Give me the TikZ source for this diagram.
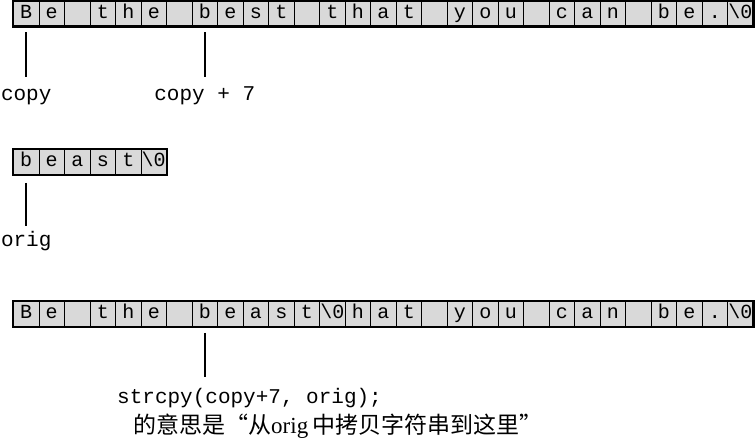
\documentclass[tikz,border=0pt]{standalone}
\usepackage{fontspec}
\setmainfont{Liberation Serif}
\setmonofont{Liberation Mono}
\newfontfamily\cjk{Noto Sans CJK SC}
\usepackage{tikz}
\usetikzlibrary{positioning,calc}
\def\nul{\textbackslash0}
\tikzstyle{cell} = [draw, line width=0.8pt, fill=gray!30, minimum width=25.5pt, minimum height=25pt, inner sep=0pt, text height=12pt, text depth=3pt, font=\fontsize{20}{22}\ttfamily]
\tikzstyle{frame} = [line width=2.5pt]
\tikzstyle{stem} = [line width=1.6pt]
\tikzstyle{lbl} = [anchor=base, inner sep=0pt, text height=12pt, text depth=4pt, font=\fontsize{21}{24}\ttfamily]

\begin{document}
\begin{tikzpicture}[x=1pt,y=-1pt]
      \useasboundingbox (0,0) rectangle (755,440);
      %%%%%%%%%%%%%%%%%%%%%%%%%%%%%%%%%%%%%%%
      % the string copy points at
      \draw (26.25,13.5) node (s1) [cell] {B};
      \draw (51.75,13.5) node (s2) [cell] {e};
      \draw (77.25,13.5) node (s3) [cell] {};
      \draw (102.75,13.5) node (s4) [cell] {t};
      \draw (128.25,13.5) node (s5) [cell] {h};
      \draw (153.75,13.5) node (s6) [cell] {e};
      \draw (179.25,13.5) node (s7) [cell] {};
      \draw (204.75,13.5) node (s8) [cell] {b};
      \draw (230.25,13.5) node (s9) [cell] {e};
      \draw (255.75,13.5) node (s10) [cell] {s};
      \draw (281.25,13.5) node (s11) [cell] {t};
      \draw (306.75,13.5) node (s12) [cell] {};
      \draw (332.25,13.5) node (s13) [cell] {t};
      \draw (357.75,13.5) node (s14) [cell] {h};
      \draw (383.25,13.5) node (s15) [cell] {a};
      \draw (408.75,13.5) node (s16) [cell] {t};
      \draw (434.25,13.5) node (s17) [cell] {};
      \draw (459.75,13.5) node (s18) [cell] {y};
      \draw (485.25,13.5) node (s19) [cell] {o};
      \draw (510.75,13.5) node (s20) [cell] {u};
      \draw (536.25,13.5) node (s21) [cell] {};
      \draw (561.75,13.5) node (s22) [cell] {c};
      \draw (587.25,13.5) node (s23) [cell] {a};
      \draw (612.75,13.5) node (s24) [cell] {n};
      \draw (638.25,13.5) node (s25) [cell] {};
      \draw (663.75,13.5) node (s26) [cell] {b};
      \draw (689.25,13.5) node (s27) [cell] {e};
      \draw (714.75,13.5) node (s28) [cell] {.};
      \draw (740.25,13.5) node (s29) [cell] {\nul};
      \draw[frame] (s1.north west) rectangle (s29.south east);
      \node (copy) [lbl] at (26.25,100) {copy};
      \node (copyseven) [lbl] at (204.75,100) {copy + 7};
      \draw[stem] ([yshift=-6pt]s1.south) -- ([yshift=11pt]copy.north);
      \draw[stem] ([yshift=-6pt]s8.south) -- ([yshift=11pt]copyseven.north);
      %%%%%%%%%%%%%%%%%%%%%%%%%%%%%%%%%%%%%%%
      % the string orig points at
      \draw (26.25,162) node (o1) [cell] {b};
      \draw (51.75,162) node (o2) [cell] {e};
      \draw (77.25,162) node (o3) [cell] {a};
      \draw (102.75,162) node (o4) [cell] {s};
      \draw (128.25,162) node (o5) [cell] {t};
      \draw (153.75,162) node (o6) [cell] {\nul};
      \draw[frame] (o1.north west) rectangle (o6.south east);
      \node (orig) [lbl] at (26.25,246) {orig};
      \draw[stem] ([yshift=-8pt]o1.south) -- ([yshift=8pt]orig.north);
      %%%%%%%%%%%%%%%%%%%%%%%%%%%%%%%%%%%%%%%
      % after the copy
      \draw (26.25,314) node (d1) [cell] {B};
      \draw (51.75,314) node (d2) [cell] {e};
      \draw (77.25,314) node (d3) [cell] {};
      \draw (102.75,314) node (d4) [cell] {t};
      \draw (128.25,314) node (d5) [cell] {h};
      \draw (153.75,314) node (d6) [cell] {e};
      \draw (179.25,314) node (d7) [cell] {};
      \draw (204.75,314) node (d8) [cell] {b};
      \draw (230.25,314) node (d9) [cell] {e};
      \draw (255.75,314) node (d10) [cell] {a};
      \draw (281.25,314) node (d11) [cell] {s};
      \draw (306.75,314) node (d12) [cell] {t};
      \draw (332.25,314) node (d13) [cell] {\nul};
      \draw (357.75,314) node (d14) [cell] {h};
      \draw (383.25,314) node (d15) [cell] {a};
      \draw (408.75,314) node (d16) [cell] {t};
      \draw (434.25,314) node (d17) [cell] {};
      \draw (459.75,314) node (d18) [cell] {y};
      \draw (485.25,314) node (d19) [cell] {o};
      \draw (510.75,314) node (d20) [cell] {u};
      \draw (536.25,314) node (d21) [cell] {};
      \draw (561.75,314) node (d22) [cell] {c};
      \draw (587.25,314) node (d23) [cell] {a};
      \draw (612.75,314) node (d24) [cell] {n};
      \draw (638.25,314) node (d25) [cell] {};
      \draw (663.75,314) node (d26) [cell] {b};
      \draw (689.25,314) node (d27) [cell] {e};
      \draw (714.75,314) node (d28) [cell] {.};
      \draw (740.25,314) node (d29) [cell] {\nul};
      \draw[frame] (d1.north west) rectangle (d29.south east);
      \node (call) [lbl, anchor=base west] at (117,403) {strcpy(copy+7, orig);};
      \node (meaning) [anchor=base west, inner sep=0pt, font=\fontsize{23}{26}\cjk] at (133,433) {的意思是“从{\rmfamily orig}\,中拷贝字符串到这里”};
      \coordinate (tip) at (d8.south |- call.north);
      \draw[stem] ([yshift=-6pt]d8.south) -- ([yshift=14pt]tip);
\end{tikzpicture}
\end{document}
